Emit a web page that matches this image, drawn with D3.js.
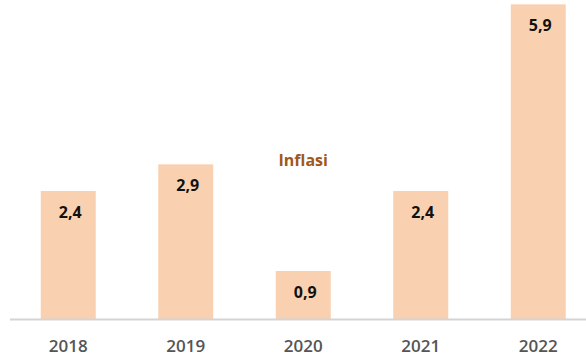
<!DOCTYPE html>
<html>
<head>
<meta charset="utf-8">
<script src="https://cdn.jsdelivr.net/npm/d3@7"></script>
<style>
  html, body { margin: 0; padding: 0; background: #ffffff; }
  svg { display: block; }
</style>
</head>
<body>
<svg id="chart" width="586" height="356"></svg>
<script>
// Annual inflation (%) by year
const years = ["2018", "2019", "2020", "2021", "2022"];
const inflasi = [2.4, 2.9, 0.9, 2.4, 5.9];
const valueLabels = ["2,4", "2,9", "0,9", "2,4", "5,9"];
const seriesName = "Inflasi";

const svg = d3.select("#chart");
const baseY = 319;

const x = d3.scaleBand()
  .domain(years)
  .range([9.5, 597])
  .paddingInner(0.532)
  .paddingOuter(0.266);

const y = d3.scaleLinear()
  .domain([0, 6])
  .range([baseY, -1]);

// Bars
svg.append("g")
  .selectAll("rect")
  .data(years)
  .join("rect")
  .attr("x", d => x(d))
  .attr("y", (d, i) => y(inflasi[i]))
  .attr("width", x.bandwidth())
  .attr("height", (d, i) => baseY - y(inflasi[i]))
  .attr("fill", "#f9d1b0");

// Baseline
svg.append("line")
  .attr("x1", 10).attr("x2", 586)
  .attr("y1", baseY + 0.5).attr("y2", baseY + 0.5)
  .attr("stroke", "#d4d4d4")
  .attr("stroke-width", 2);

// Value labels inside the bars
svg.append("g")
  .selectAll("text")
  .data(years)
  .join("text")
  .attr("x", d => x(d) + x.bandwidth() / 2 + 2)
  .attr("y", (d, i) => y(inflasi[i]) + 27)
  .attr("text-anchor", "middle")
  .attr("font-family", "'Open Sans', sans-serif")
  .attr("font-weight", 700)
  .attr("font-size", 16)
  .attr("fill", "#111111")
  .text((d, i) => valueLabels[i]);

// Category axis labels
const xAxis = d3.axisBottom(x).tickSize(0).tickPadding(0);
const gx = svg.append("g")
  .attr("transform", `translate(0,${baseY})`)
  .call(xAxis);
gx.select(".domain").remove();
gx.selectAll("text")
  .attr("dy", null)
  .attr("y", 33)
  .attr("font-family", "'Open Sans', sans-serif")
  .attr("font-weight", 600)
  .attr("font-size", 17)
  .attr("fill", "#555555");

// Series name
svg.append("text")
  .attr("x", x("2020") + x.bandwidth() / 2)
  .attr("y", 166)
  .attr("text-anchor", "middle")
  .attr("font-family", "'Open Sans', sans-serif")
  .attr("font-weight", 700)
  .attr("font-size", 16)
  .attr("fill", "#a0581c")
  .text(seriesName);
</script>
</body>
</html>
